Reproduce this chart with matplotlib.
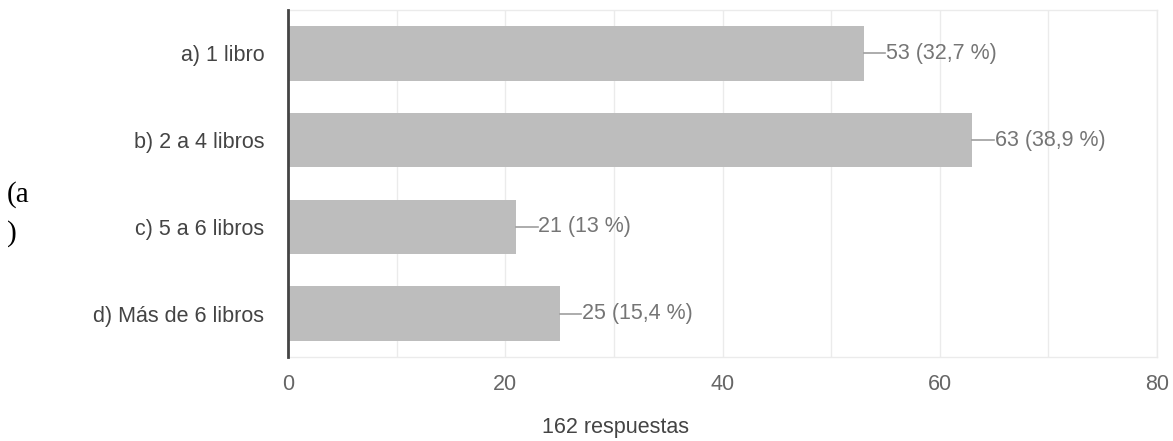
import matplotlib.pyplot as plt
import matplotlib.ticker as ticker

categories = ["a) 1 libro", "b) 2 a 4 libros", "c) 5 a 6 libros", "d) Más de 6 libros"]
counts = [53, 63, 21, 25]
pct_labels = ["32,7 %", "38,9 %", "13 %", "15,4 %"]
x_ticks = [0, 20, 40, 60, 80]
total_label = "162 respuestas"

plt.rcParams["font.family"] = ["Liberation Sans", "DejaVu Sans"]

fig = plt.figure(figsize=(11.73, 4.41), dpi=100)
ax = fig.add_axes([288 / 1173, 1 - 357 / 441, (1157 - 288) / 1173, (357 - 10) / 441])

ypos = list(range(len(categories)))
ax.barh(ypos, counts, height=0.63, color="#bdbdbd", zorder=2)

# leader line + value label
for y, v, p in zip(ypos, counts, pct_labels):
    ax.plot([v, v + 2], [y, y], color="#9e9e9e", linewidth=1.2, zorder=3)
    ax.text(v + 2.05, y, f"{v} ({p})", va="center", ha="left",
            fontsize=15.5, color="#757575")

ax.set_ylim(len(categories) - 0.5, -0.5)
ax.set_xlim(0, 80)
ax.set_yticks(ypos)
ax.set_yticklabels(categories, fontsize=15.5, color="#444444")
ax.set_xticks(x_ticks)
ax.tick_params(axis="x", labelsize=15.5, labelcolor="#666666", length=0, pad=12)
ax.tick_params(axis="x", which="minor", length=0)
ax.tick_params(axis="y", length=0, pad=17)
ax.xaxis.set_minor_locator(ticker.MultipleLocator(10))
ax.grid(True, axis="x", which="both", color="#ebebeb", linewidth=1, zorder=0)
ax.set_axisbelow(True)

for side in ["top", "right", "bottom"]:
    ax.spines[side].set_color("#ebebeb")
    ax.spines[side].set_linewidth(1)
ax.spines["left"].set_color("#444444")
ax.spines["left"].set_linewidth(2)
ax.spines["left"].set_zorder(4)

fig.text(616 / 1173, 1 - 428 / 441, total_label, ha="center", va="center",
         fontsize=15.5, color="#444444")
fig.text(7 / 1173, 1 - 195 / 441, "(a", ha="left", va="center",
         fontsize=21, family="Liberation Serif", color="black")
fig.text(7 / 1173, 1 - 234 / 441, ")", ha="left", va="center",
         fontsize=21, family="Liberation Serif", color="black")

fig.savefig("out.png", dpi=100)
